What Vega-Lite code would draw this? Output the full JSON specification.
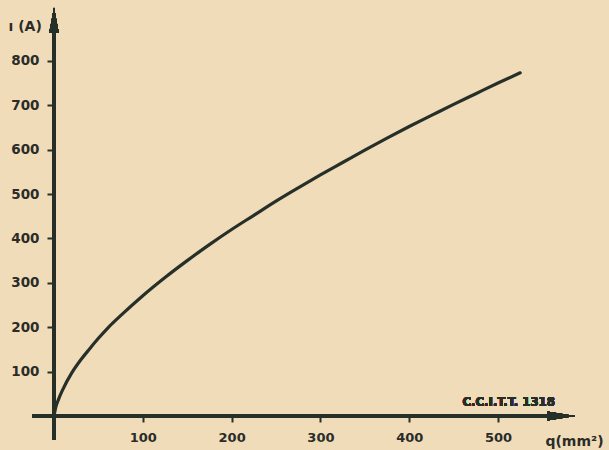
{
  "$schema": "https://vega.github.io/schema/vega-lite/v6.json",
  "autosize": "none",
  "width": 521,
  "height": 408,
  "padding": {"left": 54, "top": 8, "right": 34, "bottom": 34},
  "background": "#f1dcba",
  "config": {
    "view": {"stroke": null},
    "font": "DejaVu Sans"
  },
  "data": {
    "values": [
      {"q": 0, "i": 0},
      {"q": 2, "i": 20},
      {"q": 5, "i": 37},
      {"q": 10, "i": 60},
      {"q": 20, "i": 97},
      {"q": 30, "i": 126},
      {"q": 40, "i": 151},
      {"q": 50, "i": 175},
      {"q": 60, "i": 197},
      {"q": 75, "i": 226},
      {"q": 100, "i": 271},
      {"q": 125, "i": 312},
      {"q": 150, "i": 350},
      {"q": 175, "i": 386},
      {"q": 200, "i": 420},
      {"q": 225, "i": 452},
      {"q": 250, "i": 484},
      {"q": 275, "i": 514},
      {"q": 300, "i": 543},
      {"q": 325, "i": 571},
      {"q": 350, "i": 599},
      {"q": 375, "i": 626},
      {"q": 400, "i": 652},
      {"q": 425, "i": 677},
      {"q": 450, "i": 702},
      {"q": 475, "i": 726},
      {"q": 500, "i": 750},
      {"q": 525, "i": 773}
    ]
  },
  "layer": [
    {
      "mark": {"type": "line", "color": "#263029", "strokeWidth": 3.2, "interpolate": "monotone", "strokeCap": "round"},
      "encoding": {
        "x": {
          "field": "q", "type": "quantitative",
          "scale": {"domain": [0, 586.7], "zero": false, "nice": false},
          "axis": {
            "values": [100, 200, 300, 400, 500],
            "domain": false, "grid": false,
            "tickColor": "#263029", "tickWidth": 2, "tickSize": 6,
            "labelFont": "DejaVu Sans", "labelFontSize": 13, "labelFontWeight": "bold",
            "labelColor": "#2a2c28", "labelPadding": 9,
            "title": "q(mm²)",
            "titleFont": "DejaVu Sans", "titleFontSize": 14, "titleFontWeight": "bold",
            "titleColor": "#2a2c28",
            "titleAlign": "center", "titleAnchor": null,
            "titleX": 520, "titleY": 25, "titleBaseline": "middle"
          }
        },
        "y": {
          "field": "i", "type": "quantitative",
          "scale": {"domain": [0, 919], "zero": false, "nice": false},
          "axis": {
            "values": [100, 200, 300, 400, 500, 600, 700, 800],
            "domain": false, "grid": false,
            "tickColor": "#263029", "tickWidth": 2, "tickSize": 7,
            "labelFont": "DejaVu Sans", "labelFontSize": 13.5, "labelFontWeight": "bold",
            "labelColor": "#2a2c28", "labelPadding": 8,
            "title": "ı (A)",
            "titleFont": "DejaVu Sans", "titleFontSize": 14, "titleFontWeight": "bold",
            "titleColor": "#2a2c28",
            "titleAngle": 0, "titleAlign": "left", "titleBaseline": "middle",
            "titleX": -46, "titleY": 18
          }
        }
      }
    },
    {
      "mark": {"type": "rule", "color": "#263029", "strokeWidth": 2.6},
      "encoding": {
        "x": {"datum": -24, "type": "quantitative"},
        "x2": {"datum": 560},
        "y": {"datum": 0, "type": "quantitative"}
      }
    },
    {
      "mark": {"type": "rule", "color": "#263029", "strokeWidth": 2.6},
      "encoding": {
        "x": {"datum": 0, "type": "quantitative"},
        "y": {"datum": -54, "type": "quantitative"},
        "y2": {"datum": 870}
      }
    },
    {
      "mark": {"type": "point", "filled": true, "color": "#263029", "opacity": 1, "strokeWidth": 0,
               "shape": "M -0.38 1 L 0 -1 L 0.38 1 Z", "size": 600},
      "encoding": {
        "x": {"datum": 0, "type": "quantitative"},
        "y": {"datum": 892, "type": "quantitative"}
      }
    },
    {
      "mark": {"type": "point", "filled": true, "color": "#263029", "opacity": 1, "strokeWidth": 0,
               "shape": "M -1 -0.33 L 1 0 L -1 0.33 Z", "size": 784},
      "encoding": {
        "x": {"datum": 571, "type": "quantitative"},
        "y": {"datum": 0, "type": "quantitative"}
      }
    },
    {
      "mark": {"type": "text", "font": "DejaVu Sans Condensed", "fontSize": 13, "fontWeight": "bold",
               "color": "#2a2c28", "align": "center", "baseline": "middle"},
      "encoding": {
        "x": {"datum": 512, "type": "quantitative"},
        "y": {"datum": 31, "type": "quantitative"},
        "text": {"value": "C.C.I.T.T.  1318"}
      }
    }
  ]
}
